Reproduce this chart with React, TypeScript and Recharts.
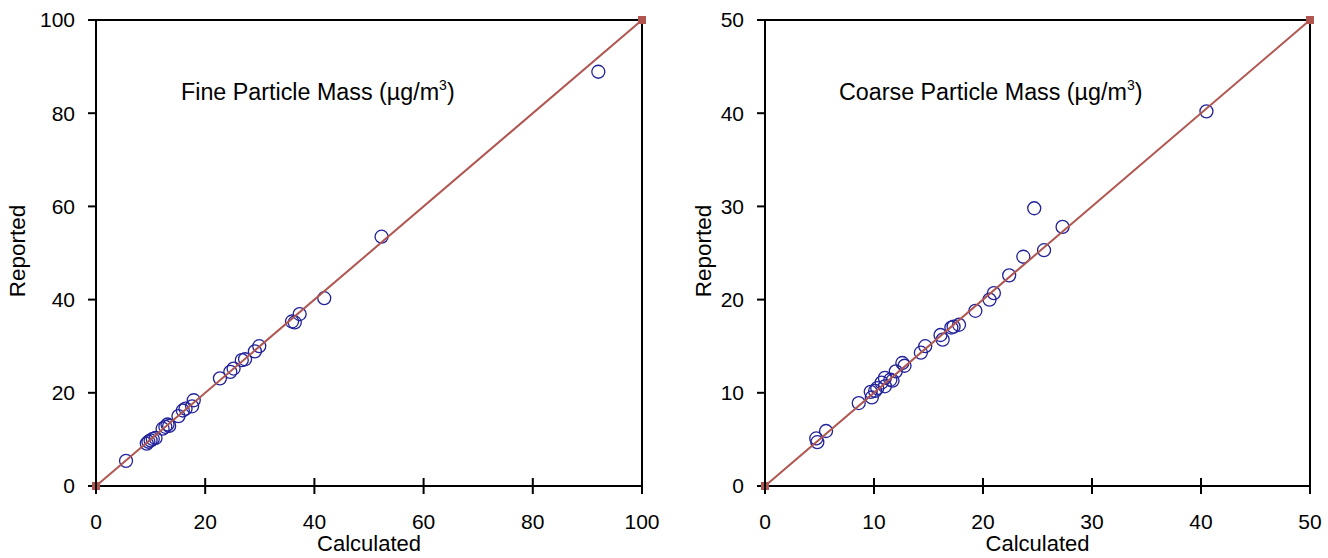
import { ReferenceArea, Scatter, ScatterChart, XAxis, YAxis } from "recharts";

const fineCalculated = [5.5, 9.3, 9.6, 10.0, 10.4, 10.9, 12.2, 12.7, 13.1, 13.4, 15.1, 15.9, 16.4, 17.6, 17.9, 22.7, 24.6, 25.2, 26.7, 27.3, 29.1, 29.9, 35.9, 36.4, 37.3, 41.8, 52.3, 92.0];
const fineReported = [5.4, 9.1, 9.5, 9.8, 10.1, 10.3, 12.3, 12.7, 13.2, 12.9, 15.0, 16.2, 16.6, 17.1, 18.4, 23.1, 24.5, 25.2, 27.0, 27.2, 28.9, 30.0, 35.3, 35.1, 36.9, 40.3, 53.5, 88.9];

const coarseCalculated = [4.7, 4.8, 5.6, 8.6, 9.7, 9.8, 10.1, 10.3, 10.7, 11.0, 11.0, 11.5, 11.7, 12.0, 12.6, 12.8, 14.3, 14.7, 16.1, 16.3, 17.1, 17.3, 17.8, 19.3, 20.6, 21.0, 22.4, 23.7, 24.7, 25.6, 27.3, 40.5];
const coarseReported = [5.1, 4.7, 5.9, 8.9, 10.1, 9.5, 10.2, 10.5, 11.1, 10.7, 11.6, 11.4, 11.3, 12.3, 13.2, 12.9, 14.3, 15.0, 16.2, 15.7, 17.0, 17.1, 17.3, 18.8, 20.0, 20.7, 22.6, 24.6, 29.8, 25.3, 27.8, 40.2];

const fineTicks = [0, 20, 40, 60, 80, 100];
const coarseTicks = [0, 10, 20, 30, 40, 50];

const FONT = '"Liberation Sans", Arial, Helvetica, sans-serif';
const POINT = "#22229a";
const LINE = "#b0554f";

const toPoints = (xs: number[], ys: number[]) => xs.map((x, i) => ({ x, y: ys[i] }));

// x ticks cross the axis line, label sits well below
function XTick(props: any) {
  const { x, y, payload } = props;
  const axisY = y - 28;
  return (
    <g>
      <line x1={x} x2={x} y1={axisY - 8} y2={axisY + 8} stroke="#000" strokeWidth={2} />
      <text x={x} y={axisY + 43} fontSize={21} fontFamily={FONT} textAnchor="middle" fill="#000">
        {payload.value}
      </text>
    </g>
  );
}

type PanelProps = {
  left: number;
  width: number;
  title: string;
  titleX: number;
  labelX: number;
  ticks: number[];
  calculated: number[];
  reported: number[];
};

function Panel({ left, width, title, titleX, labelX, ticks, calculated, reported }: PanelProps) {
  const max = ticks[ticks.length - 1];
  const points = toPoints(calculated, reported);
  const diagonal = toPoints([0, max], [0, max]);
  const plotLeft = 96;
  const plotRight = width - 18;
  return (
    <div style={{ position: "absolute", left, top: 0, width, height: 558 }}>
      <ScatterChart width={width} height={558} margin={{ top: 20, right: 18, bottom: 12, left: 26 }}>
        <XAxis
          type="number"
          dataKey="x"
          domain={[0, max]}
          ticks={ticks}
          height={60}
          tickSize={8}
          tickMargin={20}
          tick={<XTick />}
          axisLine={{ stroke: "#000", strokeWidth: 2 }}
          tickLine={false}
        />
        <YAxis
          type="number"
          dataKey="y"
          domain={[0, max]}
          ticks={ticks}
          width={70}
          tickSize={8}
          tickMargin={13}
          tick={{ fontSize: 21, fill: "#000", fontFamily: FONT }}
          axisLine={{ stroke: "#000", strokeWidth: 2 }}
          tickLine={{ stroke: "#000", strokeWidth: 2 }}
        />
        <ReferenceArea x1={0} x2={max} y1={0} y2={max} fill="none" stroke="#000" strokeWidth={2} />
        <Scatter
          data={points}
          isAnimationActive={false}
          shape={(p: any) => (
            <circle cx={p.cx} cy={p.cy} r={6.5} fill="none" stroke={POINT} strokeWidth={1.3} />
          )}
        />
        <Scatter
          data={diagonal}
          isAnimationActive={false}
          line={{ stroke: LINE, strokeWidth: 2 }}
          shape="square"
          fill={LINE}
        />
      </ScatterChart>
      <svg
        width={width}
        height={558}
        style={{ position: "absolute", left: 0, top: 0, pointerEvents: "none" }}
        fontFamily={FONT}
      >
        <text x={(plotLeft + plotRight) / 2} y={551} fontSize={22} textAnchor="middle">
          Calculated
        </text>
        <text
          x={labelX}
          y={251}
          fontSize={22.5}
          textAnchor="middle"
          transform={`rotate(-90 ${labelX} 251)`}
        >
          Reported
        </text>
        <text x={titleX} y={100} fontSize={23.3}>
          {title} (µg/m<tspan fontSize={14} dy={-10}>3</tspan>
          <tspan dy={10}>)</tspan>
        </text>
      </svg>
    </div>
  );
}

export default function App() {
  return (
    <div style={{ position: "absolute", left: 0, top: 0, width: 1328, height: 558, background: "#fff" }}>
      <Panel
        left={0}
        width={660}
        title="Fine Particle Mass"
        titleX={181}
        labelX={25}
        ticks={fineTicks}
        calculated={fineCalculated}
        reported={fineReported}
      />
      <Panel
        left={669}
        width={659}
        title="Coarse Particle Mass"
        titleX={170}
        labelX={42}
        ticks={coarseTicks}
        calculated={coarseCalculated}
        reported={coarseReported}
      />
    </div>
  );
}
